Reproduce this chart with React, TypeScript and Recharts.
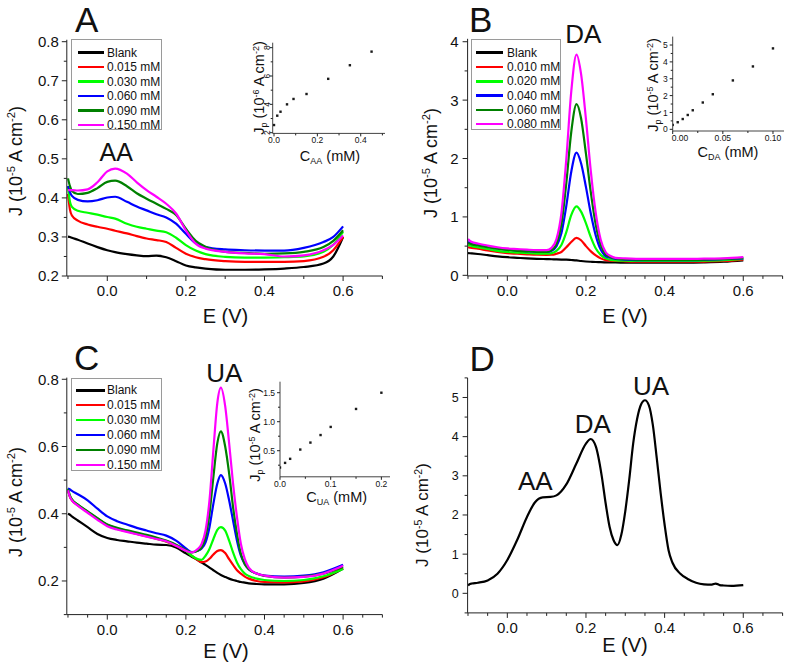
import React from 'react';
import { LineChart, Line, XAxis, YAxis, ScatterChart, Scatter } from 'recharts';

const W = 787;
const H = 664;
const FONT = '"Liberation Sans", Arial, Helvetica, sans-serif';
const INK = '#111';
const AXIS = '#222';
const COLORS = ['#000000', '#ff0000', '#00ff00', '#0000ff', '#008000', '#ff00ff'];

// ---------------- Panel A (AA) ----------------
const A_E = [-0.1, -0.095, -0.09, -0.075, -0.05, -0.025, 0, 0.02, 0.05, 0.075, 0.1, 0.125, 0.15, 0.175, 0.2, 0.225, 0.25, 0.3, 0.35, 0.4, 0.45, 0.5, 0.55, 0.575, 0.6];
const A_BLANK = [0.301, 0.300, 0.298, 0.293, 0.283, 0.274, 0.266, 0.261, 0.256, 0.253, 0.251, 0.252, 0.248, 0.238, 0.227, 0.222, 0.219, 0.216, 0.216, 0.217, 0.219, 0.223, 0.232, 0.250, 0.300];
const A_015 = [0.410, 0.370, 0.355, 0.342, 0.332, 0.326, 0.321, 0.316, 0.309, 0.302, 0.296, 0.292, 0.287, 0.272, 0.257, 0.248, 0.243, 0.238, 0.236, 0.236, 0.236, 0.238, 0.249, 0.266, 0.300];
const A_030 = [0.430, 0.390, 0.377, 0.367, 0.362, 0.357, 0.351, 0.347, 0.334, 0.326, 0.321, 0.316, 0.312, 0.298, 0.279, 0.265, 0.256, 0.249, 0.247, 0.247, 0.248, 0.250, 0.262, 0.280, 0.313];
const A_060 = [0.430, 0.415, 0.405, 0.395, 0.391, 0.394, 0.401, 0.403, 0.390, 0.378, 0.368, 0.358, 0.350, 0.334, 0.308, 0.284, 0.274, 0.268, 0.266, 0.265, 0.265, 0.272, 0.287, 0.300, 0.327];
const A_090 = [0.450, 0.430, 0.418, 0.410, 0.413, 0.425, 0.441, 0.444, 0.430, 0.412, 0.398, 0.385, 0.372, 0.356, 0.321, 0.290, 0.275, 0.262, 0.259, 0.257, 0.258, 0.262, 0.274, 0.290, 0.317];
const A_150 = [0.420, 0.420, 0.420, 0.419, 0.422, 0.440, 0.468, 0.475, 0.462, 0.440, 0.420, 0.403, 0.385, 0.360, 0.317, 0.283, 0.270, 0.262, 0.258, 0.256, 0.250, 0.253, 0.266, 0.280, 0.304];
const A_LEGEND = ['Blank', '0.015 mM', '0.030 mM', '0.060 mM', '0.090 mM', '0.150 mM'];
const A_INSET_C = [0, 0.015, 0.03, 0.06, 0.09, 0.15, 0.25, 0.35, 0.45];
const A_INSET_J = [2.54, 3.2, 3.48, 4.0, 4.38, 4.73, 5.8, 6.76, 7.72];

// ---------------- Panel B (DA) ----------------
const B_E = [-0.1, -0.095, -0.09, -0.075, -0.05, -0.025, 0, 0.025, 0.05, 0.075, 0.1, 0.1125, 0.125, 0.1375, 0.15, 0.1625, 0.176, 0.1875, 0.2, 0.2125, 0.225, 0.2375, 0.25, 0.2625, 0.275, 0.3, 0.35, 0.4, 0.45, 0.5, 0.55, 0.6];
const B_BLANK = [0.380, 0.378, 0.375, 0.365, 0.345, 0.325, 0.310, 0.300, 0.290, 0.283, 0.278, 0.275, 0.272, 0.270, 0.268, 0.262, 0.255, 0.245, 0.237, 0.232, 0.228, 0.225, 0.222, 0.220, 0.220, 0.218, 0.218, 0.218, 0.218, 0.222, 0.232, 0.255];
const B_010 = [0.480, 0.475, 0.470, 0.455, 0.425, 0.400, 0.380, 0.370, 0.360, 0.352, 0.350, 0.352, 0.370, 0.400, 0.480, 0.570, 0.640, 0.600, 0.500, 0.410, 0.340, 0.290, 0.260, 0.250, 0.245, 0.240, 0.235, 0.232, 0.232, 0.236, 0.245, 0.270];
const B_020 = [0.520, 0.510, 0.500, 0.480, 0.450, 0.420, 0.400, 0.390, 0.380, 0.372, 0.370, 0.380, 0.420, 0.520, 0.740, 1.030, 1.180, 1.090, 0.890, 0.650, 0.460, 0.350, 0.290, 0.265, 0.255, 0.250, 0.245, 0.245, 0.245, 0.250, 0.260, 0.280];
const B_040 = [0.570, 0.555, 0.540, 0.520, 0.490, 0.460, 0.440, 0.425, 0.412, 0.403, 0.400, 0.420, 0.500, 0.720, 1.190, 1.770, 2.100, 1.920, 1.510, 1.050, 0.680, 0.440, 0.330, 0.300, 0.280, 0.270, 0.260, 0.260, 0.260, 0.265, 0.275, 0.290];
const B_060 = [0.550, 0.540, 0.530, 0.510, 0.480, 0.455, 0.435, 0.420, 0.410, 0.402, 0.400, 0.430, 0.540, 0.870, 1.580, 2.450, 2.930, 2.690, 2.080, 1.410, 0.860, 0.520, 0.360, 0.310, 0.290, 0.275, 0.265, 0.265, 0.265, 0.270, 0.280, 0.300];
const B_080 = [0.620, 0.590, 0.570, 0.545, 0.510, 0.480, 0.460, 0.450, 0.440, 0.432, 0.430, 0.470, 0.620, 1.060, 1.990, 3.140, 3.780, 3.450, 2.670, 1.770, 1.060, 0.610, 0.400, 0.330, 0.300, 0.290, 0.280, 0.280, 0.280, 0.285, 0.290, 0.310];
const B_LEGEND = ['Blank', '0.010 mM', '0.020 mM', '0.040 mM', '0.060 mM', '0.080 mM'];
const B_INSET_C = [0, 0.005, 0.01, 0.015, 0.02, 0.03, 0.04, 0.06, 0.08, 0.10];
const B_INSET_J = [0.26, 0.42, 0.61, 0.85, 1.13, 1.59, 2.08, 2.9, 3.73, 4.8];

// ---------------- Panel C (UA) ----------------
const C_E = [-0.1, -0.095, -0.09, -0.075, -0.05, -0.025, 0, 0.025, 0.05, 0.075, 0.1, 0.125, 0.15, 0.175, 0.2, 0.215, 0.23, 0.24, 0.25, 0.26, 0.27, 0.28, 0.289, 0.3, 0.31, 0.32, 0.33, 0.34, 0.35, 0.36, 0.38, 0.4, 0.45, 0.5, 0.55, 0.6];
const C_BLANK = [0.400, 0.397, 0.392, 0.380, 0.360, 0.340, 0.328, 0.322, 0.318, 0.314, 0.311, 0.308, 0.307, 0.300, 0.282, 0.272, 0.262, 0.255, 0.248, 0.240, 0.232, 0.224, 0.218, 0.212, 0.207, 0.203, 0.200, 0.197, 0.195, 0.193, 0.191, 0.190, 0.190, 0.194, 0.207, 0.237];
const C_015 = [0.470, 0.450, 0.440, 0.425, 0.405, 0.385, 0.366, 0.355, 0.348, 0.340, 0.333, 0.325, 0.317, 0.305, 0.290, 0.275, 0.262, 0.256, 0.258, 0.266, 0.279, 0.289, 0.292, 0.283, 0.265, 0.248, 0.232, 0.222, 0.213, 0.207, 0.200, 0.197, 0.196, 0.199, 0.211, 0.238];
const C_030 = [0.475, 0.455, 0.443, 0.427, 0.406, 0.386, 0.367, 0.356, 0.349, 0.341, 0.334, 0.326, 0.318, 0.306, 0.290, 0.275, 0.265, 0.263, 0.275, 0.295, 0.325, 0.352, 0.360, 0.350, 0.320, 0.285, 0.255, 0.235, 0.222, 0.215, 0.207, 0.203, 0.200, 0.203, 0.214, 0.236];
const C_060 = [0.475, 0.472, 0.468, 0.458, 0.440, 0.415, 0.392, 0.378, 0.368, 0.358, 0.350, 0.342, 0.335, 0.320, 0.297, 0.286, 0.290, 0.297, 0.315, 0.360, 0.430, 0.490, 0.515, 0.490, 0.440, 0.380, 0.320, 0.275, 0.250, 0.235, 0.222, 0.216, 0.213, 0.216, 0.226, 0.248];
const C_090 = [0.472, 0.452, 0.442, 0.427, 0.407, 0.387, 0.368, 0.358, 0.351, 0.344, 0.337, 0.329, 0.320, 0.308, 0.292, 0.285, 0.290, 0.300, 0.330, 0.400, 0.510, 0.610, 0.645, 0.600, 0.520, 0.420, 0.340, 0.280, 0.250, 0.235, 0.222, 0.215, 0.210, 0.213, 0.222, 0.242];
const C_150 = [0.470, 0.450, 0.440, 0.424, 0.403, 0.382, 0.363, 0.353, 0.346, 0.339, 0.332, 0.325, 0.318, 0.305, 0.290, 0.285, 0.295, 0.310, 0.350, 0.440, 0.590, 0.730, 0.775, 0.720, 0.610, 0.490, 0.390, 0.310, 0.265, 0.240, 0.222, 0.216, 0.210, 0.212, 0.222, 0.245];
const C_LEGEND = ['Blank', '0.015 mM', '0.030 mM', '0.060 mM', '0.090 mM', '0.150 mM'];
const C_INSET_C = [0, 0.01, 0.02, 0.04, 0.06, 0.08, 0.10, 0.15, 0.20];
const C_INSET_J = [0.21, 0.29, 0.36, 0.52, 0.64, 0.77, 0.91, 1.22, 1.50];

// ---------------- Panel D (mixture) ----------------
const D_E = [-0.1, -0.095, -0.09, -0.075, -0.05, -0.025, 0, 0.025, 0.05, 0.07, 0.09, 0.11, 0.125, 0.15, 0.175, 0.2, 0.212, 0.225, 0.24, 0.25, 0.26, 0.27, 0.28, 0.29, 0.3, 0.31, 0.32, 0.33, 0.34, 0.35, 0.36, 0.37, 0.38, 0.39, 0.4, 0.41, 0.42, 0.44, 0.46, 0.48, 0.5, 0.52, 0.53, 0.54, 0.55, 0.57, 0.6];
const D_J = [0.20, 0.24, 0.25, 0.27, 0.33, 0.50, 0.85, 1.36, 1.95, 2.32, 2.45, 2.46, 2.50, 2.78, 3.30, 3.82, 3.94, 3.75, 3.00, 2.30, 1.70, 1.36, 1.23, 1.50, 2.10, 2.90, 3.82, 4.45, 4.82, 4.93, 4.80, 4.30, 3.45, 2.55, 1.75, 1.10, 0.78, 0.50, 0.36, 0.27, 0.23, 0.22, 0.25, 0.21, 0.20, 0.19, 0.21];

// ---------------- tick lists ----------------
const X_TICKS_A = [-0.1, 0, 0.1, 0.2, 0.3, 0.4, 0.5, 0.6, 0.7];
const X_TICKS_FINE = [-0.1, -0.05, 0, 0.05, 0.1, 0.15, 0.2, 0.25, 0.3, 0.35, 0.4, 0.45, 0.5, 0.55, 0.6, 0.65, 0.7];
const X_LABELS = [0, 0.2, 0.4, 0.6];

const buildRows = (E: number[], series: number[][]) =>
  E.map((e, i) => {
    const row: Record<string, number> = { E: e };
    series.forEach((s, k) => {
      row['s' + k] = s[i];
    });
    return row;
  });

const buildPoints = (c: number[], j: number[]) => c.map((v, i) => ({ c: v, j: j[i] }));

const near = (a: number, list: number[]) => list.some((b) => Math.abs(a - b) < 1e-6);

type XTickOpt = { labels: number[]; fmt: (v: number) => string; size: number; major: number; minor: number; base: number; firstStart?: boolean };
type YTickOpt = { labels: number[]; fmt: (v: number) => string; size: number; major: number; minor: number; gap: number; rotate?: boolean };

function xTick(o: XTickOpt) {
  return (p: any) => {
    const v = Number(p.payload.value);
    const maj = near(v, o.labels);
    const start = !!o.firstStart && Math.abs(v - o.labels[0]) < 1e-6;
    return (
      <g>
        <line x1={p.x} x2={p.x} y1={p.y} y2={p.y + (maj ? o.major : o.minor)} stroke={AXIS} strokeWidth={1} />
        {maj ? (
          <text x={start ? p.x - 1 : p.x} y={p.y + o.base} textAnchor={start ? 'start' : 'middle'} fontSize={o.size} fontFamily={FONT} fill={INK}>
            {o.fmt(v)}
          </text>
        ) : null}
      </g>
    );
  };
}

function yTick(o: YTickOpt) {
  return (p: any) => {
    const v = Number(p.payload.value);
    const maj = near(v, o.labels);
    const tx = p.x - o.gap;
    return (
      <g>
        <line x1={p.x} x2={p.x - (maj ? o.major : o.minor)} y1={p.y} y2={p.y} stroke={AXIS} strokeWidth={1} />
        {maj ? (
          o.rotate ? (
            <text x={tx} y={p.y} transform={`rotate(-90 ${tx} ${p.y})`} textAnchor="middle" fontSize={o.size} fontFamily={FONT} fill={INK}>
              {o.fmt(v)}
            </text>
          ) : (
            <text x={tx} y={p.y} dy="0.36em" textAnchor="end" fontSize={o.size} fontFamily={FONT} fill={INK}>
              {o.fmt(v)}
            </text>
          )
        ) : null}
      </g>
    );
  };
}

type Rect = { l: number; t: number; r: number; b: number };
const YW = 50;
const XH = 30;
const margins = (r: Rect) => ({ left: r.l - YW, top: r.t, right: W - r.r, bottom: H - r.b - XH });

function MainPanel(props: {
  rect: Rect;
  rows: Record<string, number>[];
  n: number;
  xDomain: [number, number];
  xTicks: number[];
  yDomain: [number, number];
  yTicks: number[];
  yLabels: number[];
  yFmt: (v: number) => string;
  ySize: number;
  yGap: number;
  colors: string[];
}) {
  const { rect, rows, n } = props;
  return (
    <div style={{ position: 'absolute', left: 0, top: 0 }}>
      <LineChart width={W} height={H} data={rows} margin={margins(rect)}>
        <XAxis
          type="number"
          dataKey="E"
          domain={props.xDomain}
          ticks={props.xTicks}
          interval={0}
          allowDataOverflow
          height={XH}
          tickSize={0}
          tickMargin={0}
          tickLine={false}
          axisLine={{ stroke: AXIS, strokeWidth: 1 }}
          tick={xTick({ labels: X_LABELS, fmt: (v) => v.toFixed(1), size: 15, major: 5, minor: 3, base: 20 })}
        />
        <YAxis
          type="number"
          domain={props.yDomain}
          ticks={props.yTicks}
          interval={0}
          allowDataOverflow
          width={YW}
          tickSize={0}
          tickMargin={0}
          tickLine={false}
          axisLine={{ stroke: AXIS, strokeWidth: 1 }}
          tick={yTick({ labels: props.yLabels, fmt: props.yFmt, size: props.ySize, major: 5, minor: 3, gap: props.yGap })}
        />
        {Array.from({ length: n }).map((_, k) => (
          <Line
            key={k}
            type="monotone"
            dataKey={'s' + k}
            stroke={props.colors[k]}
            strokeWidth={2.2}
            dot={false}
            isAnimationActive={false}
          />
        ))}
      </LineChart>
    </div>
  );
}

const dotShape = (p: any) => <rect x={p.cx - 1.2} y={p.cy - 1.2} width={2.4} height={2.4} fill="#1a1a1a" />;

function Inset(props: {
  rect: Rect;
  points: { c: number; j: number }[];
  xDomain: [number, number];
  xTicks: number[];
  xLabels: number[];
  xFmt: (v: number) => string;
  yDomain: [number, number];
  yTicks: number[];
  yLabels: number[];
  yFmt: (v: number) => string;
  rotateY?: boolean;
  firstStart?: boolean;
}) {
  return (
    <div style={{ position: 'absolute', left: 0, top: 0 }}>
      <ScatterChart width={W} height={H} margin={margins(props.rect)}>
        <XAxis
          type="number"
          dataKey="c"
          domain={props.xDomain}
          ticks={props.xTicks}
          interval={0}
          allowDataOverflow
          height={XH}
          tickSize={0}
          tickMargin={0}
          tickLine={false}
          axisLine={{ stroke: '#444', strokeWidth: 1 }}
          tick={xTick({ labels: props.xLabels, fmt: props.xFmt, size: 8.5, major: 3, minor: 2, base: 10, firstStart: props.firstStart })}
        />
        <YAxis
          type="number"
          dataKey="j"
          domain={props.yDomain}
          ticks={props.yTicks}
          interval={0}
          allowDataOverflow
          width={YW}
          tickSize={0}
          tickMargin={0}
          tickLine={false}
          axisLine={{ stroke: '#444', strokeWidth: 1 }}
          tick={yTick({ labels: props.yLabels, fmt: props.yFmt, size: 8.5, major: 3, minor: 2, gap: props.rotateY ? 3 : 5, rotate: props.rotateY })}
        />
        <Scatter data={props.points} shape={dotShape} isAnimationActive={false} />
      </ScatterChart>
    </div>
  );
}

function T(props: { x: number; y: number; size: number; rotate?: boolean; children: React.ReactNode }) {
  return (
    <div
      style={{
        position: 'absolute',
        left: props.x,
        top: props.y,
        transform: `translate(-50%, -50%)${props.rotate ? ' rotate(-90deg)' : ''}`,
        fontSize: props.size,
        fontFamily: FONT,
        lineHeight: 1,
        whiteSpace: 'nowrap',
        color: INK,
      }}
    >
      {props.children}
    </div>
  );
}

const Sup = ({ children }: { children: React.ReactNode }) => (
  <span style={{ fontSize: '0.62em', position: 'relative', top: '-0.6em' }}>{children}</span>
);
const Sub = ({ children }: { children: React.ReactNode }) => (
  <span style={{ fontSize: '0.62em', position: 'relative', top: '0.35em' }}>{children}</span>
);

function LegendBox(props: { l: number; t: number; w: number; h: number; names: string[]; row0: number; step: number; lx0: number; lx1: number; tx: number }) {
  return (
    <div
      style={{
        position: 'absolute',
        left: props.l,
        top: props.t,
        width: props.w,
        height: props.h,
        border: '1px solid #9a9a9a',
        boxSizing: 'border-box',
        background: '#fff',
      }}
    >
      {props.names.map((name, k) => {
        const cy = props.row0 + k * props.step;
        return (
          <React.Fragment key={name}>
            <div style={{ position: 'absolute', left: props.lx0, top: cy - 1.25, width: props.lx1 - props.lx0, height: 2.5, background: COLORS[k] }} />
            <div
              style={{
                position: 'absolute',
                left: props.tx,
                top: cy,
                transform: 'translateY(-50%)',
                fontSize: 12,
                fontFamily: FONT,
                lineHeight: 1,
                whiteSpace: 'nowrap',
                color: INK,
              }}
            >
              {name}
            </div>
          </React.Fragment>
        );
      })}
    </div>
  );
}

const YTitle = ({ exp }: { exp: string }) => (
  <span>
    J (10<Sup>{exp}</Sup> A cm<Sup>-2</Sup>)
  </span>
);
const InsetYTitle = ({ exp }: { exp: string }) => (
  <span>
    J<Sub>p</Sub> (10<Sup>{exp}</Sup> A cm<Sup>-2</Sup>)
  </span>
);

export default function App() {
  const rowsA = buildRows(A_E, [A_BLANK, A_015, A_030, A_060, A_090, A_150]);
  const rowsB = buildRows(B_E, [B_BLANK, B_010, B_020, B_040, B_060, B_080]);
  const rowsC = buildRows(C_E, [C_BLANK, C_015, C_030, C_060, C_090, C_150]);
  const rowsD = buildRows(D_E, [D_J]);

  return (
    <div style={{ position: 'absolute', left: 0, top: 0, width: W, height: H, background: '#fff', overflow: 'hidden' }}>
      <MainPanel
        rect={{ l: 66.8, t: 39.75, r: 382.4, b: 276 }}
        rows={rowsA}
        n={6}
        xDomain={[-0.103, 0.7]}
        xTicks={X_TICKS_A}
        yDomain={[0.2, 0.805]}
        yTicks={[0.2, 0.25, 0.3, 0.35, 0.4, 0.45, 0.5, 0.55, 0.6, 0.65, 0.7, 0.75, 0.8]}
        yLabels={[0.2, 0.3, 0.4, 0.5, 0.6, 0.7, 0.8]}
        yFmt={(v) => v.toFixed(1)}
        ySize={15}
        yGap={8}
        colors={COLORS}
      />
      <MainPanel
        rect={{ l: 467.6, t: 38.8, r: 782.6, b: 275.9 }}
        rows={rowsB}
        n={6}
        xDomain={[-0.101, 0.7]}
        xTicks={X_TICKS_FINE}
        yDomain={[-0.01, 4.05]}
        yTicks={[0, 0.5, 1, 1.5, 2, 2.5, 3, 3.5, 4]}
        yLabels={[0, 1, 2, 3, 4]}
        yFmt={(v) => String(Math.round(v))}
        ySize={15}
        yGap={9}
        colors={COLORS}
      />
      <MainPanel
        rect={{ l: 66.8, t: 377.6, r: 382.4, b: 614.6 }}
        rows={rowsC}
        n={6}
        xDomain={[-0.103, 0.7]}
        xTicks={X_TICKS_FINE}
        yDomain={[0.1, 0.805]}
        yTicks={[0.1, 0.2, 0.3, 0.4, 0.5, 0.6, 0.7, 0.8]}
        yLabels={[0.2, 0.4, 0.6, 0.8]}
        yFmt={(v) => v.toFixed(1)}
        ySize={15}
        yGap={8}
        colors={COLORS}
      />
      <MainPanel
        rect={{ l: 467.6, t: 377.9, r: 782.6, b: 612.9 }}
        rows={rowsD}
        n={1}
        xDomain={[-0.101, 0.7]}
        xTicks={X_TICKS_FINE}
        yDomain={[-0.5, 5.5]}
        yTicks={[-0.5, 0, 0.5, 1, 1.5, 2, 2.5, 3, 3.5, 4, 4.5, 5, 5.5]}
        yLabels={[0, 1, 2, 3, 4, 5]}
        yFmt={(v) => String(Math.round(v))}
        ySize={12.5}
        yGap={9}
        colors={COLORS}
      />

      <Inset
        rect={{ l: 272.7, t: 42.7, r: 385, b: 133.4 }}
        points={buildPoints(A_INSET_C, A_INSET_J)}
        xDomain={[-0.006, 0.512]}
        xTicks={[0, 0.1, 0.2, 0.3, 0.4, 0.5]}
        xLabels={[0, 0.2, 0.4]}
        xFmt={(v) => v.toFixed(1)}
        yDomain={[1.95, 8.35]}
        yTicks={[2, 3, 4, 5, 6, 7, 8]}
        yLabels={[2, 4, 6, 8]}
        yFmt={(v) => String(Math.round(v))}
        rotateY
      />
      <Inset
        rect={{ l: 672.7, t: 36.6, r: 784, b: 131 }}
        points={buildPoints(B_INSET_C, B_INSET_J)}
        xDomain={[0, 0.111]}
        xTicks={[0, 0.025, 0.05, 0.075, 0.1]}
        xLabels={[0, 0.05, 0.1]}
        xFmt={(v) => v.toFixed(2)}
        yDomain={[-0.1, 5.5]}
        yTicks={[0, 0.5, 1, 1.5, 2, 2.5, 3, 3.5, 4, 4.5, 5]}
        yLabels={[0, 1, 2, 3, 4, 5]}
        yFmt={(v) => String(Math.round(v))}
        firstStart
      />
      <Inset
        rect={{ l: 280, t: 381.7, r: 390, b: 476.8 }}
        points={buildPoints(C_INSET_C, C_INSET_J)}
        xDomain={[0, 0.217]}
        xTicks={[0, 0.05, 0.1, 0.15, 0.2]}
        xLabels={[0, 0.1, 0.2]}
        xFmt={(v) => v.toFixed(1)}
        yDomain={[0.05, 1.69]}
        yTicks={[0.25, 0.5, 0.75, 1, 1.25, 1.5]}
        yLabels={[0.5, 1, 1.5]}
        yFmt={(v) => v.toFixed(1)}
      />

      <LegendBox l={70.7} t={39.3} w={91.6} h={90.7} names={A_LEGEND} row0={12.4} step={14.5} lx0={6.3} lx1={32.3} tx={35.3} />
      <LegendBox l={471} t={39.3} w={89.7} h={90.7} names={B_LEGEND} row0={12.4} step={14.3} lx0={4} lx1={30.7} tx={35} />
      <LegendBox l={70.7} t={378.3} w={91.6} h={92.4} names={C_LEGEND} row0={11} step={14.9} lx0={4.3} lx1={33.3} tx={35.3} />

      <T x={86.7} y={19.2} size={35}>A</T>
      <T x={480.8} y={19} size={35}>B</T>
      <T x={86.7} y={356.7} size={35}>C</T>
      <T x={482.2} y={358.3} size={35}>D</T>

      <T x={116.2} y={152} size={25}>AA</T>
      <T x={583.3} y={34.2} size={26}>DA</T>
      <T x={224.2} y={373.3} size={26}>UA</T>
      <T x={651} y={385.8} size={26}>UA</T>
      <T x={592.8} y={424.2} size={26}>DA</T>
      <T x={535.3} y={480.8} size={26}>AA</T>

      <T x={225.5} y={316} size={20}>E (V)</T>
      <T x={625} y={316} size={20}>E (V)</T>
      <T x={226} y={651} size={20}>E (V)</T>
      <T x={625} y={645} size={20}>E (V)</T>

      <T x={16} y={161} size={18} rotate><YTitle exp="-5" /></T>
      <T x={431} y={163} size={18} rotate><YTitle exp="-5" /></T>
      <T x={16} y={502} size={18} rotate><YTitle exp="-5" /></T>
      <T x={422} y={515} size={17} rotate><YTitle exp="-5" /></T>

      <T x={259} y={88} size={14.5} rotate><InsetYTitle exp="-6" /></T>
      <T x={653} y={85} size={14.5} rotate><InsetYTitle exp="-5" /></T>
      <T x={255} y={435} size={14.5} rotate><InsetYTitle exp="-5" /></T>

      <T x={330} y={156} size={14.5}>C<Sub>AA</Sub> (mM)</T>
      <T x={728} y={152} size={14.5}>C<Sub>DA</Sub> (mM)</T>
      <T x={336.7} y={497} size={14.5}>C<Sub>UA</Sub> (mM)</T>
    </div>
  );
}
